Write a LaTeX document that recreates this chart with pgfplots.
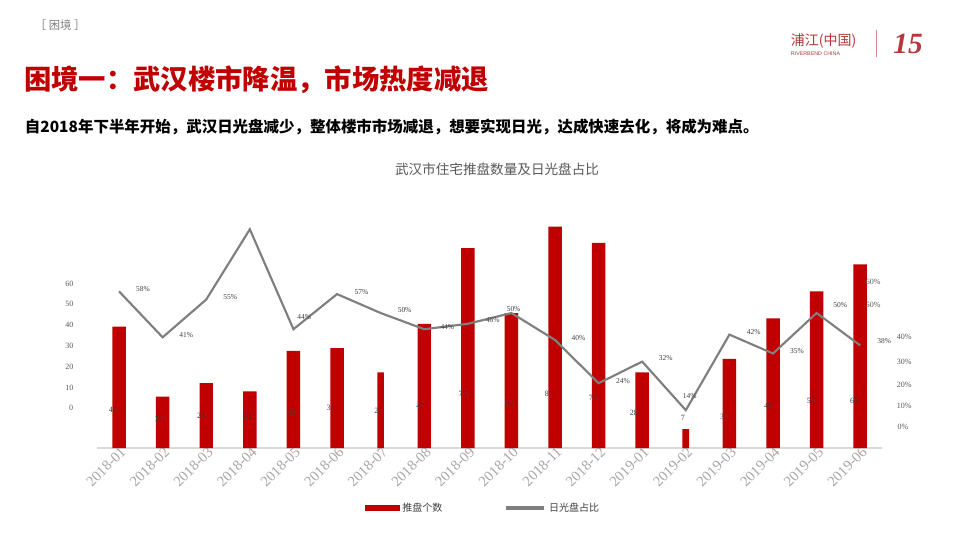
\documentclass[border=0pt]{standalone}
\usepackage{pgfplots}
\pgfplotsset{compat=1.18}
\usepackage{pgfplotstable}
\usepackage{fontspec}
\setmainfont{Liberation Serif}
\newfontfamily\cjk{Noto Sans CJK SC}
\newfontfamily\sans{Liberation Sans}
\definecolor{barred}{HTML}{C00000}
\definecolor{linegray}{HTML}{7F7F7F}
\definecolor{lblgray}{HTML}{404040}
\definecolor{axgray}{HTML}{595959}
\definecolor{tickgray}{HTML}{A6A6A6}
\definecolor{logored}{HTML}{B5383A}

% bar values (推盘个数)
\pgfplotstableread{
x n
0 45
1 19
2 24
3 21
4 36
5 37
7 46
8 74
9 50
10 82
11 76
12 28
14 33
15 48
16 58
17 68
}\barswide
\pgfplotstableread{
x n
6 28
13 7
}\barsnarrow
% 日光盘占比 (%)
\pgfplotstableread{
x r
0 58
1 41
2 55
3 81
4 44
5 57
6 50
7 44
8 46
9 50
10 40
11 24
12 32
13 14
14 42
15 35
16 50
17 38
}\ratio
% data labels of the bars, as placed in the reference
\pgfplotstableread{
x y t
-0.14 14.1 45
0.90 10.7 19
1.88 11.9 24
2.96 11.5 21
3.97 13.0 36
4.85 14.8 37
5.95 13.7 28
6.91 15.6 46
7.88 20.0 74
8.94 16.7 50
9.86 20.0 82
10.87 18.5 76
11.81 13.0 28
12.93 11.1 7
13.88 11.5 33
14.89 15.6 48
15.87 17.4 58
16.86 17.4 68
}\barlabels
% data labels of the line
\pgfplotstableread{
x y t
0.55 58.9 58
1.54 41.9 41
2.55 55.9 55
4.25 48.5 44
5.56 57.8 57
6.55 51.1 50
7.53 44.8 44
8.57 47.4 46
9.05 51.5 50
10.54 40.7 40
11.56 24.8 24
12.54 33.3 32
13.09 19.3 14
14.56 43.0 42
15.55 35.9 35
16.54 53.0 50
17.55 39.6 38
}\linelabels
% left axis labels
\pgfplotstableread{
x y t
-1.14 60.7 60
-1.14 53.3 50
-1.14 45.6 40
-1.14 37.8 30
-1.14 30.0 20
-1.14 22.2 10
-1.10 14.8 0
}\leftlabels
% right axis labels
\pgfplotstableread{
x y t
17.30 61.5 60
17.30 53.0 50
18.01 41.1 40
18.01 31.9 30
18.01 23.3 20
18.01 15.6 10
17.98 7.8 0
}\rightlabels

\begin{document}
\begin{tikzpicture}
\path[use as bounding box, fill=white] (0,0) rectangle (720pt,405pt);

% header texts
\node[anchor=west, inner sep=0, text=linegray, font=\cjk\fontsize{8.5}{9}\selectfont] at (26pt,386.25pt) {［ 困境 ］};
\node[anchor=west, inner sep=0, text=barred, font=\cjk\bfseries\fontsize{20.5}{22}\selectfont] at (18pt,345pt) {困境一：武汉楼市降温，市场热度减退};
\node[anchor=west, inner sep=0, text=black, font=\cjk\bfseries\fontsize{11.6}{13}\selectfont] at (18.5pt,309.75pt) {自2018年下半年开始，武汉日光盘减少，整体楼市市场减退，想要实现日光，达成快速去化，将成为难点。};
\node[inner sep=0, text=axgray, font=\cjk\fontsize{10.2}{11}\selectfont] at (372.75pt,278.25pt) {武汉市住宅推盘数量及日光盘占比};

% logo
\node[anchor=west, inner sep=0, text=logored, font=\cjk\fontsize{10.5}{11}\selectfont] at (593pt,374.5pt) {浦江(中国)};
\node[anchor=west, inner sep=0, text=logored, font=\sans\fontsize{4}{4}\selectfont] at (593pt,365pt) {RIVERBEND CHINA};
\draw[logored!60, line width=0.5pt] (657pt,382.5pt) -- (657pt,362.25pt);
\node[inner sep=0, text=logored, font=\bfseries\itshape\fontsize{22}{22}\selectfont] at (681pt,372pt) {15};

\begin{axis}[
  at={(72.94pt,69pt)}, anchor=south west,
  scale only axis, width=588.56pt, height=182.25pt,
  xmin=-0.5, xmax=17.5, ymin=0, ymax=90,
  clip=false,
  axis y line=none,
  axis x line*=bottom,
  x axis line style={draw=black!15, line width=0.8pt},
  xtick={0,...,17},
  xticklabels={2018-01,2018-02,2018-03,2018-04,2018-05,2018-06,2018-07,2018-08,2018-09,2018-10,2018-11,2018-12,2019-01,2019-02,2019-03,2019-04,2019-05,2019-06},
  major tick length=0pt,
  xticklabel style={rotate=45, anchor=east, text=tickgray, font=\fontsize{11}{11}\selectfont, xshift=5pt, yshift=-3pt},
  ytick=\empty,
  legend style={at={(rel axis cs:0.492,-0.247)}, anchor=center, draw=none, fill=none,
    legend columns=2, font=\cjk\fontsize{7.5}{8}\selectfont, text=lblgray,
    /tikz/every even column/.append style={column sep=44pt}},
  legend cell align=left,
]
\addplot[ybar, bar width=10.1pt, bar shift=0pt, fill=barred, draw=none,
  legend image code/.code={\fill[barred] (0pt,-2.4pt) rectangle (26pt,2.4pt);}]
  table[x=x, y=n] {\barswide};
\addlegendentry{推盘个数}
\addplot[ybar, bar width=5pt, bar shift=0pt, fill=barred, draw=none, forget plot]
  table[x=x, y=n] {\barsnarrow};
\addplot[linegray, line width=1.6pt, mark=none,
  legend image code/.code={\draw[linegray, line width=3pt] (0pt,0pt) -- (29pt,0pt);}]
  table[x=x, y=r] {\ratio};
\addlegendentry{日光盘占比}

\addplot[draw=none, mark=none, forget plot, nodes near coords, point meta=explicit symbolic,
  nodes near coords style={anchor=center, inner sep=0pt, text=lblgray, font=\fontsize{6}{6}\selectfont}]
  table[x=x, y=y, meta=t] {\barlabels};
\addplot[draw=none, mark=none, forget plot, nodes near coords={\pgfplotspointmeta\%}, point meta=explicit symbolic,
  nodes near coords style={anchor=center, inner sep=0pt, text=lblgray, font=\fontsize{5.6}{6}\selectfont}]
  table[x=x, y=y, meta=t] {\linelabels};
\addplot[draw=none, mark=none, forget plot, nodes near coords, point meta=explicit symbolic,
  nodes near coords style={anchor=center, inner sep=0pt, text=axgray, font=\fontsize{6}{6}\selectfont}]
  table[x=x, y=y, meta=t] {\leftlabels};
\addplot[draw=none, mark=none, forget plot, nodes near coords={\pgfplotspointmeta\%}, point meta=explicit symbolic,
  nodes near coords style={anchor=center, inner sep=0pt, text=axgray, font=\fontsize{6}{6}\selectfont}]
  table[x=x, y=y, meta=t] {\rightlabels};
\end{axis}
\end{tikzpicture}
\end{document}
